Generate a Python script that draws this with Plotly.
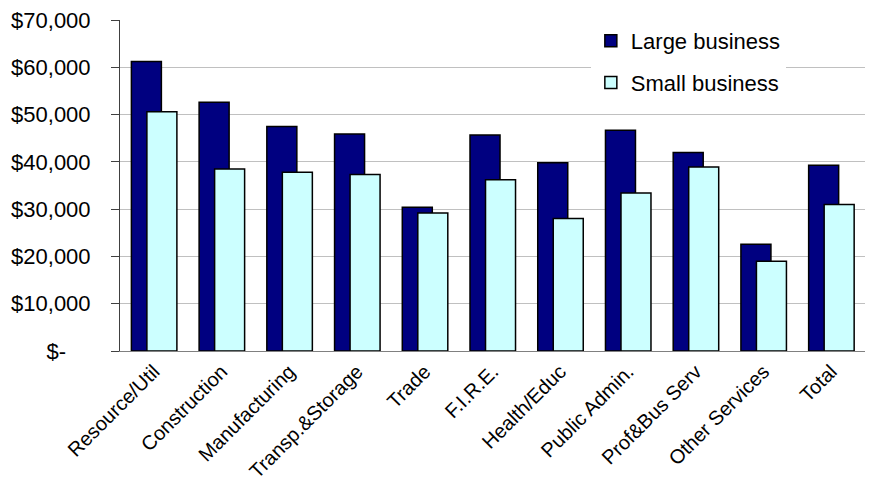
import plotly.graph_objects as go

# Average wages by industry, large vs small business
categories = ["Resource/Util", "Construction", "Manufacturing", "Transp.&Storage",
              "Trade", "F.I.R.E.", "Health/Educ", "Public Admin.", "Prof&Bus Serv",
              "Other Services", "Total"]
large_business = [61200, 52600, 47500, 45900, 30400, 45700, 39800, 46700, 42000, 22600, 39300]
small_business = [50600, 38500, 37800, 37300, 29200, 36200, 28000, 33400, 38900, 19000, 31000]

y_tick_values = [0, 10000, 20000, 30000, 40000, 50000, 60000, 70000]
y_tick_labels = ["$-\u00a0\u00a0\u00a0\u00a0", "$10,000", "$20,000", "$30,000",
                 "$40,000", "$50,000", "$60,000", "$70,000"]

FONT = "Liberation Sans, Arial, sans-serif"
BAR_W = 0.443

fig = go.Figure()
fig.add_trace(go.Bar(
    x=categories, y=large_business, name="Large business",
    width=BAR_W, offset=-0.332,
    marker=dict(color="#000080", line=dict(color="#000000", width=1.5)),
    legendgroup="large",
))
fig.add_trace(go.Bar(
    x=categories, y=small_business, name="Small business",
    width=BAR_W, offset=-0.103,
    marker=dict(color="#CCFFFF", line=dict(color="#000000", width=1.5)),
    legendgroup="small",
))

fig.update_layout(
    width=869, height=489,
    barmode="overlay",
    paper_bgcolor="white", plot_bgcolor="white",
    margin=dict(l=120, r=4, t=20, b=138),
    font=dict(family=FONT, size=22, color="#000000"),
    showlegend=True,
    legend=dict(
        x=0.632, y=1.0, xanchor="left", yanchor="top",
        bgcolor="white", borderwidth=0,
        font=dict(family=FONT, size=22),
        traceorder="grouped", tracegroupgap=10,
    ),
    xaxis=dict(
        tickangle=-45, showgrid=False, ticks="",
        showline=True, linecolor="#808080", linewidth=1,
        tickfont=dict(family=FONT, size=20),
        ticklabelstandoff=0,
        automargin=False,
    ),
    yaxis=dict(
        range=[0, 70000], tickvals=y_tick_values, ticktext=y_tick_labels,
        showgrid=True, gridcolor="#C0C0C0", gridwidth=1,
        showline=True, linecolor="#404040", linewidth=1,
        ticks="outside", ticklen=8, tickcolor="#404040",
        ticklabelstandoff=16,
        zeroline=False,
        tickfont=dict(family=FONT, size=22),
        automargin=False,
    ),
)

fig.write_html("out.html")
